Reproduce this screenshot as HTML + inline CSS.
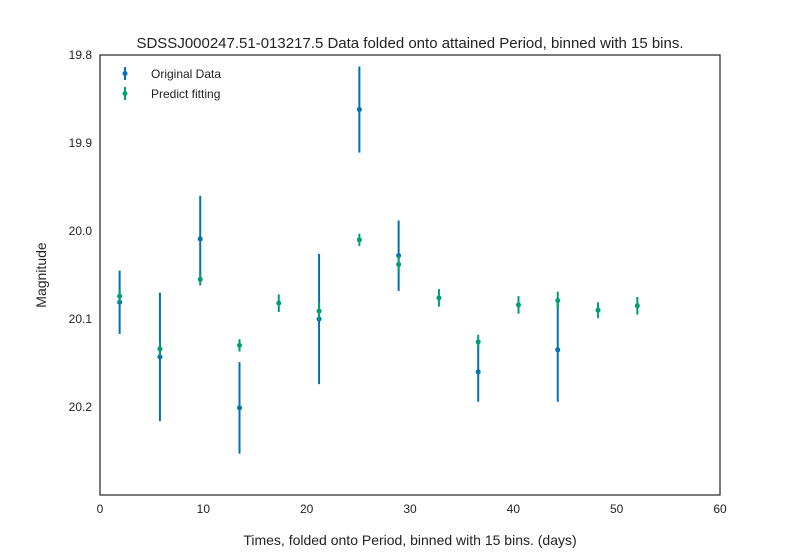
<!DOCTYPE html>
<html><head><meta charset="utf-8"><style>
body{margin:0;background:#fff;}
svg{font-family:"Liberation Sans",sans-serif;}
</style></head><body>
<svg id="chart" width="800" height="550">
<rect x="0" y="0" width="800" height="550" fill="#fff"/>
<text x="410" y="48" text-anchor="middle" font-size="15" fill="#222">SDSSJ000247.51-013217.5 Data folded onto attained Period, binned with 15 bins.</text>
<text x="410" y="545" text-anchor="middle" font-size="14" fill="#222">Times, folded onto Period, binned with 15 bins. (days)</text>
<text x="46" y="275" text-anchor="middle" font-size="14" fill="#222" transform="rotate(-90 46 275)">Magnitude</text>
<g id="ticks"></g>
<g id="marks"></g>
<rect x="100" y="55" width="620" height="440" fill="none" stroke="#222" stroke-width="1.2"/>
<g>
<g>
<line x1="125" y1="67" x2="125" y2="80" stroke="#0072b2" stroke-width="2"/><circle cx="125" cy="73.5" r="2.5" fill="#0072b2"/>
<text x="151" y="78" font-size="12" fill="#222">Original Data</text></g>
<g>
<line x1="125" y1="87" x2="125" y2="100" stroke="#009e73" stroke-width="2"/><circle cx="125" cy="93.5" r="2.5" fill="#009e73"/>
<text x="151" y="98" font-size="12" fill="#222">Predict fitting</text></g>
</g>
</svg>
<script>
const xTicks=[0,10,20,30,40,50,60];
const yTicks=[19.8,19.9,20.0,20.1,20.2];
const yTickLabels=["19.8","19.9","20.0","20.1","20.2"];
const origX=[1.9,5.8,9.7,13.5,21.2,25.1,28.9,36.6,44.3];
const origY=[20.081,20.143,20.009,20.201,20.100,19.862,20.028,20.160,20.135];
const origErr=[0.036,0.073,0.049,0.052,0.074,0.049,0.040,0.034,0.059];
const predX=[1.9,5.8,9.7,13.5,17.3,21.2,25.1,28.9,32.8,36.6,40.5,44.3,48.2,52.0];
const predY=[20.074,20.134,20.055,20.130,20.082,20.091,20.010,20.038,20.076,20.126,20.084,20.079,20.090,20.085];
const predErr=[0.008,0.008,0.007,0.007,0.010,0.010,0.007,0.010,0.010,0.008,0.010,0.010,0.009,0.010];
const NS="http://www.w3.org/2000/svg";
const sx=v=>100+(v-0)/60*620;
const sy=v=>55+(v-19.8)/0.5*440;
const tg=document.getElementById('ticks'),mg=document.getElementById('marks');
function el(t,a,p){const e=document.createElementNS(NS,t);for(const k in a)e.setAttribute(k,a[k]);p.appendChild(e);return e;}
xTicks.forEach(v=>{
 const t=el('text',{x:sx(v),y:513,'text-anchor':'middle','font-size':12,fill:'#222'},tg);t.textContent=v;
 
 
});
yTicks.forEach((v,i)=>{
 const t=el('text',{x:92,y:sy(v)+4,'text-anchor':'end','font-size':12,fill:'#222'},tg);t.textContent=yTickLabels[i];
 
 
});
function series(X,Y,E,c,name){
 X.forEach((x,i)=>{
  const g=el('g',{},mg);
  
  
  el('line',{x1:sx(x),x2:sx(x),y1:sy(Y[i]-E[i]),y2:sy(Y[i]+E[i]),stroke:c,'stroke-width':2},g);
  el('circle',{cx:sx(x),cy:sy(Y[i]),r:2.5,fill:c},g);
 });
}
series(origX,origY,origErr,'#0072b2','original');
series(predX,predY,predErr,'#009e73','predict');
</script>
</body></html>
